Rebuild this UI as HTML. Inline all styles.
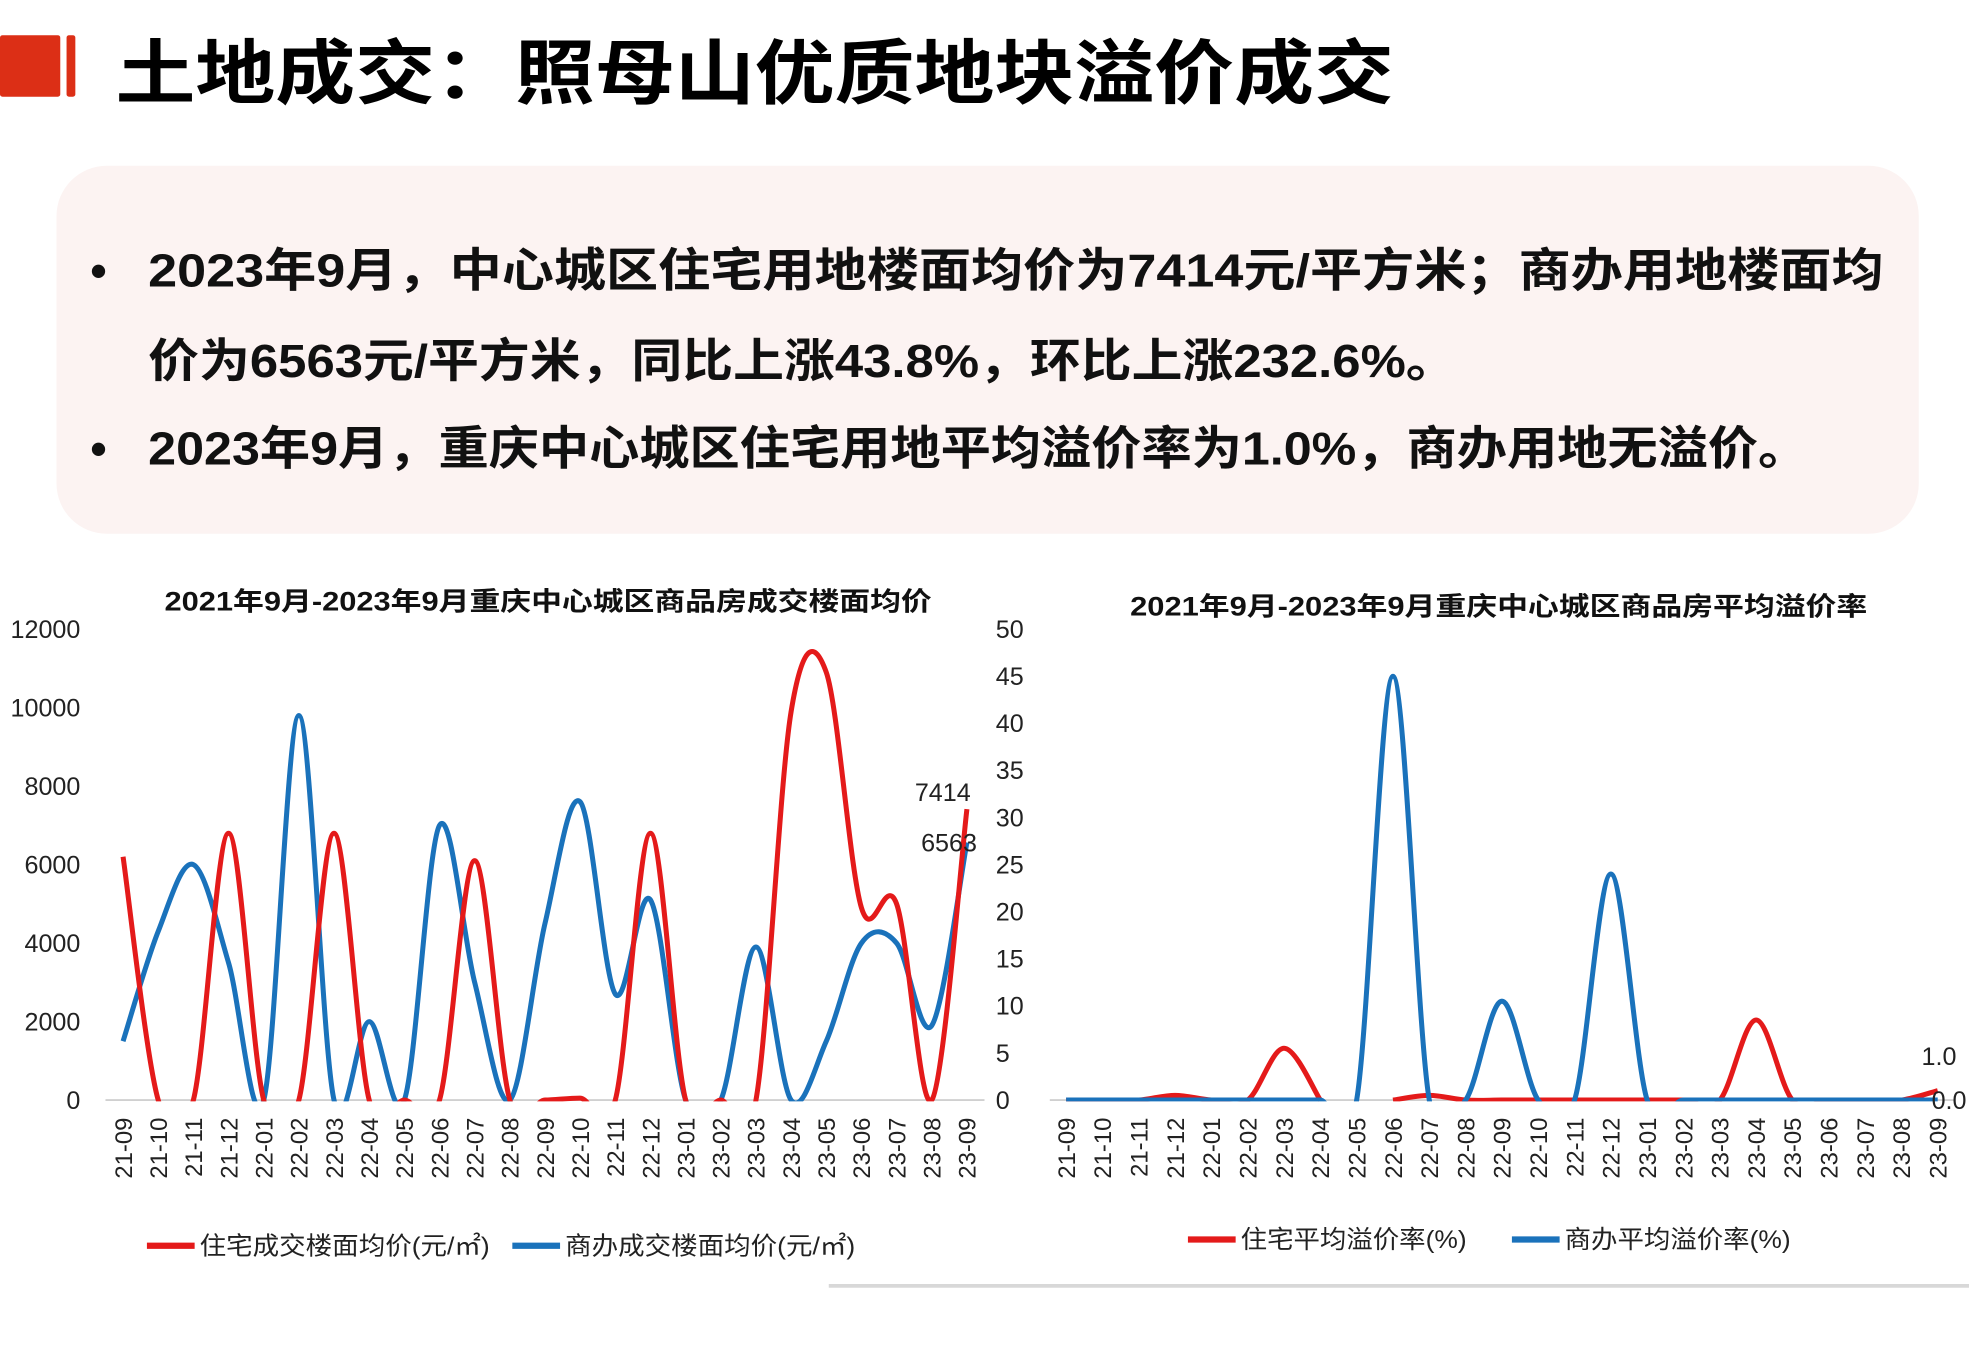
<!DOCTYPE html>
<html><head><meta charset="utf-8"><style>
html,body{margin:0;padding:0;background:#fff;}
svg{display:block;}
text{font-family:"Liberation Sans","Noto Sans CJK SC",sans-serif;}
</style></head><body>
<svg id="s" width="1969" height="1350" viewBox="0 0 1568 1075" xmlns="http://www.w3.org/2000/svg">
<rect width="1568" height="1075" fill="#fff"/>
<rect x="0" y="28" width="48" height="49" rx="2" fill="#dc2f16"/>
<rect x="53" y="28" width="7" height="49" rx="2" fill="#dc2f16"/>
<text x="92" y="78" font-size="56" font-weight="bold" fill="#000" textLength="1018" lengthAdjust="spacingAndGlyphs">土地成交：照母山优质地块溢价成交</text>
<rect x="45" y="132" width="1483" height="293" rx="40" fill="#fcf3f2"/>
<g font-size="37" font-weight="bold" fill="#111">
<text x="72" y="228">•</text>
<text x="118" y="228" textLength="1382" lengthAdjust="spacingAndGlyphs">2023年9月，中心城区住宅用地楼面均价为7414元/平方米；商办用地楼面均</text>
<text x="118" y="300" textLength="1042" lengthAdjust="spacingAndGlyphs">价为6563元/平方米，同比上涨43.8%，环比上涨232.6%。</text>
<text x="72" y="370">•</text>
<text x="118" y="370" textLength="1322" lengthAdjust="spacingAndGlyphs">2023年9月，重庆中心城区住宅用地平均溢价率为1.0%，商办用地无溢价。</text>
</g>
<text x="131" y="486" font-size="21" font-weight="bold" fill="#111" textLength="611" lengthAdjust="spacingAndGlyphs">2021年9月-2023年9月重庆中心城区商品房成交楼面均价</text>
<text x="900" y="490" font-size="21" font-weight="bold" fill="#111" textLength="587" lengthAdjust="spacingAndGlyphs">2021年9月-2023年9月重庆中心城区商品房平均溢价率</text>
<g font-size="20" fill="#222" text-anchor="end" id="yl"></g>
<g font-size="20" fill="#222" id="yr"></g>
<line x1="84" y1="876" x2="784" y2="876" stroke="#d0d0d0" stroke-width="1.5"/>
<line x1="836" y1="876" x2="1556" y2="876" stroke="#d0d0d0" stroke-width="1.5"/>
<g id="lines" fill="none" stroke-width="4" stroke-linejoin="round"></g>
<g id="xl" font-size="19" fill="#222"></g>
<text x="773" y="638" font-size="20" text-anchor="end" fill="#222">7414</text>
<text x="778" y="678" font-size="20" text-anchor="end" fill="#222">6563</text>
<text x="1558" y="848" font-size="20" text-anchor="end" fill="#222">1.0</text>
<text x="1566" y="883" font-size="20" text-anchor="end" fill="#222">0.0</text>
<g font-size="20" fill="#222">
<line x1="117" y1="992" x2="155" y2="992" stroke="#e41a1a" stroke-width="5"/>
<text x="159" y="999" textLength="231" lengthAdjust="spacingAndGlyphs">住宅成交楼面均价(元/㎡)</text>
<line x1="408" y1="992" x2="446" y2="992" stroke="#1a72bb" stroke-width="5"/>
<text x="450" y="999" textLength="231" lengthAdjust="spacingAndGlyphs">商办成交楼面均价(元/㎡)</text>
<line x1="946" y1="987" x2="984" y2="987" stroke="#e41a1a" stroke-width="5"/>
<text x="988" y="994" textLength="180" lengthAdjust="spacingAndGlyphs">住宅平均溢价率(%)</text>
<line x1="1204" y1="987" x2="1242" y2="987" stroke="#1a72bb" stroke-width="5"/>
<text x="1246" y="994" textLength="180" lengthAdjust="spacingAndGlyphs">商办平均溢价率(%)</text>
</g>
<line x1="660" y1="1024" x2="1568" y2="1024" stroke="#d8d8d8" stroke-width="3"/>
</svg>
<script>
var NS="http://www.w3.org/2000/svg";
function el(t,a,p,txt){var e=document.createElementNS(NS,t);for(var k in a)e.setAttribute(k,a[k]);if(txt!=null)e.textContent=txt;p.appendChild(e);return e;}
var yl=document.getElementById('yl'),yr=document.getElementById('yr'),xl=document.getElementById('xl'),L=document.getElementById('lines');
for(var i=0;i<=6;i++){el('text',{x:64,y:883-i*62.5},yl,String(i*2000));}
for(var i=0;i<=10;i++){el('text',{x:793,y:883-i*37.5},yr,String(i*5));}
var labs=[];for(var i=0;i<25;i++){var m=(8+i)%12+1,y=21+Math.floor((8+i)/12);labs.push(y+'-'+(m<10?'0'+m:m));}
function xa(i){return 98+i*28;} function xb(i){return 849+i*28.92;}
labs.forEach(function(l,i){
 el('text',{x:0,y:0,transform:'translate('+(xa(i)+7)+',890) rotate(-90)','text-anchor':'end'},xl,l);
 el('text',{x:0,y:0,transform:'translate('+(xb(i)+7)+',890) rotate(-90)','text-anchor':'end'},xl,l);
});
function path(pts){var d='M'+pts[0][0]+','+pts[0][1];for(var i=0;i<pts.length-1;i++){var p0=pts[i-1]||pts[i],p1=pts[i],p2=pts[i+1],p3=pts[i+2]||p2;var t=1/6;
d+=' C'+(p1[0]+(p2[0]-p0[0])*t)+','+(p1[1]+(p2[1]-p0[1])*t)+' '+(p2[0]-(p3[0]-p1[0])*t)+','+(p2[1]-(p3[1]-p1[1])*t)+' '+p2[0]+','+p2[1];}return d;}
var defs=el('defs',{},document.getElementById('s'));
var c1=el('clipPath',{id:'c1'},defs);el('rect',{x:84,y:495,width:700,height:382},c1);
var c2=el('clipPath',{id:'c2'},defs);el('rect',{x:836,y:495,width:720,height:382},c2);
var rA=[6200,0,0,6800,0,0,6800,0,0,0,6100,0,0,50,0,6800,0,0,0,9900,10900,4900,5000,0,7414];
var bA=[1500,4300,6000,3500,0,9800,0,2000,0,7000,3000,0,4500,7600,2700,5100,0,0,3900,0,1500,4000,4000,1900,6563];
var rB=[0,0,0,0.5,0,0,5.5,0,null,0,0.5,0,0,0,0,0,0,0,0,8.5,0,0,0,0,1.0];
var bB=[0,0,0,0,0,0,0,0,0,45,0,0,10.5,0,0,24,0,0,0,0,0,0,0,0,0];
function draw(arr,fx,sc,col,clip){var segs=[],cur=[];arr.forEach(function(v,i){if(v==null){if(cur.length)segs.push(cur);cur=[];}else cur.push([fx(i),876-v*sc]);});if(cur.length)segs.push(cur);
segs.forEach(function(s){el('path',{d:path(s),stroke:col,'clip-path':'url(#'+clip+')'},L);});}
draw(bA,xa,0.03125,'#1a72bb','c1');draw(rA,xa,0.03125,'#e41a1a','c1');
draw(rB,xb,7.5,'#e41a1a','c2');draw(bB,xb,7.5,'#1a72bb','c2');
</script>
</body></html>
